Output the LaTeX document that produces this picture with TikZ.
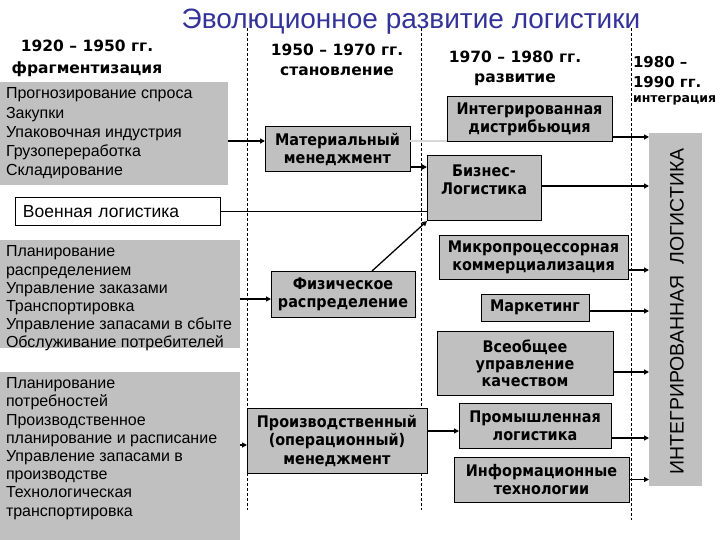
\documentclass[tikz,border=0pt]{standalone}
\usepackage{fontspec}
\setmainfont{Liberation Sans}
\newfontfamily\boxfont{DejaVu Sans}[FakeStretch=0.9]
\newfontfamily\hdrfont{DejaVu Sans}
\usetikzlibrary{arrows.meta}
\definecolor{titleblue}{RGB}{51,51,153}
\definecolor{boxgray}{RGB}{192,192,192}

\begin{document}
\begin{tikzpicture}[x=1pt, y=-1pt,
  every node/.style={inner sep=0pt, outer sep=0pt},
  hdr/.style={font=\hdrfont\bfseries\fontsize{15.5}{20}\selectfont, align=center},
  lbox/.style={fill=boxgray, anchor=north west},
  ltext/.style={font=\fontsize{16}{18.2}\selectfont, align=left, anchor=west},
  gbox/.style={draw, fill=boxgray, line width=1pt, align=center,
               font=\boxfont\bfseries\fontsize{16}{18}\selectfont},
  arr/.style={line width=1.3pt, -{Triangle[length=5pt,width=5pt]}},
  sep/.style={dash pattern=on 3pt off 2pt, line width=0.6pt}]
\useasboundingbox (0,0) rectangle (720,540);

% separators
\draw[sep] (247,28) -- (247,510);
\draw[sep] (421,28) -- (421,510);
\draw[sep] (631,28) -- (631,520);

% title and period headers
\node[font=\fontsize{28}{30}\selectfont, text=titleblue] (title) at (411,22)
  {Эволюционное развитие логистики};
\node[hdr, font=\hdrfont\bfseries\fontsize{15.5}{22}\selectfont] (h1) at (87,58)
  {1920 – 1950 гг.\\фрагментизация};
\node[hdr] (h2) at (337,60) {1950 – 1970 гг.\\становление};
\node[hdr] (h3) at (515,68) {1970 – 1980 гг.\\развитие};
\node[hdr, align=left, anchor=west, font=\hdrfont\bfseries\fontsize{15}{20}\selectfont]
  (h4) at (633,72) {1980 –\\1990 гг.};
\node[anchor=west, font=\hdrfont\bfseries\fontsize{12.5}{14}\selectfont] (h4b) at (633,100)
  {интеграция};

% left column
\node[lbox, minimum width=228pt, minimum height=103pt] (frag) at (0,82) {};
\node[ltext, font=\fontsize{16}{19.3}\selectfont] (fragtxt) at (6,133.5)
  {Прогнозирование спроса\\Закупки\\Упаковочная индустрия\\Грузопереработка\\Складирование};
\node[draw, fill=white, line width=1pt, minimum width=205pt, minimum height=28pt,
  text width=189pt, inner xsep=8pt, align=left, font=\fontsize{17.5}{19}\selectfont]
  (voen) at (117.5,212) {Военная логистика};
\node[lbox, minimum width=240pt, minimum height=108pt] (raspr) at (0,240) {};
\node[ltext] (raspr txt) at (6,298.5)
  {Планирование\\распределением\\Управление заказами\\Транспортировка\\Управление запасами в сбыте\\Обслуживание потребителей};
\node[lbox, minimum width=240pt, minimum height=168pt] (potr) at (0,372) {};
\node[ltext] (potrtxt) at (6,448.5)
  {Планирование\\потребностей\\Производственное\\планирование и расписание\\Управление запасами в\\производстве\\Технологическая\\транспортировка};

% middle column
\node[gbox, minimum width=145pt, minimum height=45pt] (mat) at (337.5,149.5)
  {Материальный\\менеджмент};
\node[gbox, minimum width=144pt, minimum height=46pt] (fiz) at (343,294)
  {Физическое\\распределение};
\node[gbox, minimum width=180pt, minimum height=65pt,
  font=\boxfont\bfseries\fontsize{16}{18.5}\selectfont] (proizv) at (337,440.5)
  {Производственный\\(операционный)\\менеджмент};

% right column
\node[gbox, minimum width=165pt, minimum height=45pt] (intdist) at (529.5,119.5)
  {Интегрированная\\дистрибьюция};
\node[gbox, minimum width=114pt, minimum height=65pt] (biz) at (484,188.5)
  {Бизнес-\\Логистика\\\mbox{}};
\node[gbox, minimum width=189pt, minimum height=44pt] (mikro) at (533.5,257)
  {Микропроцессорная\\коммерциализация};
\node[gbox, minimum width=108pt, minimum height=27pt] (market) at (535,307.5)
  {Маркетинг};
\node[gbox, minimum width=176pt, minimum height=64pt, font=\boxfont\bfseries\fontsize{16}{17}\selectfont]
  (vseob) at (525,363) {Всеобщее\\управление\\качеством};
\node[gbox, minimum width=152pt, minimum height=45pt] (prom) at (535,425.5)
  {Промышленная\\логистика};
\node[gbox, minimum width=175pt, minimum height=45pt] (inform) at (541.5,479.5)
  {Информационные\\технологии};

\node[fill=boxgray, minimum width=53pt, minimum height=353pt] (integ) at (675.5,309.5) {};
\node[rotate=90, font=\fontsize{19.5}{21}\selectfont] (integtxt) at (677,311.5)
  {ИНТЕГРИРОВАННАЯ\ \ ЛОГИСТИКА};

% connectors
\draw[arr] ([yshift=-7.5pt]frag.east) -- ([yshift=-7.5pt]frag.east -| mat.west);
\draw[arr] ([yshift=-5pt]raspr.east) -- ([yshift=-5pt]raspr.east -| fiz.west);
\draw[arr] ([yshift=11pt]potr.east) -- ([yshift=11pt]potr.east -| proizv.west);
\draw[gray!30, line width=2pt] ([yshift=8.5pt]mat.east) -- ([yshift=8.5pt]mat.east -| intdist.west);
\draw[arr] ([yshift=5pt]mat.south east) -- ([yshift=5pt]mat.south east -| biz.west);
\draw[line width=1pt] (voen.east) -- (voen.east -| biz.west);
\draw[arr] ([xshift=29pt]fiz.north) -- (biz.south west);
\draw[arr] ([yshift=9.5pt]proizv.east) -- ([yshift=9.5pt]proizv.east -| prom.west);

\draw[arr] ([yshift=5pt]intdist.south east) -- ([yshift=5pt]intdist.south east -| integ.west);
\draw[arr] ([yshift=2.5pt]biz.east) -- ([yshift=2.5pt]biz.east -| integ.west);
\draw[arr] ([yshift=-13pt]mikro.east) -- ([yshift=-13pt]mikro.east -| integ.west);
\draw[arr] ([yshift=-3.5pt]market.east) -- ([yshift=-3.5pt]market.east -| integ.west);
\draw[arr] ([yshift=-9pt]vseob.east) -- ([yshift=-9pt]vseob.east -| integ.west);
\draw[arr] ([yshift=-12.5pt]prom.east) -- ([yshift=-12.5pt]prom.east -| integ.west);
\draw[arr] (inform.east) -- (inform.east -| integ.west);
\end{tikzpicture}
\end{document}
